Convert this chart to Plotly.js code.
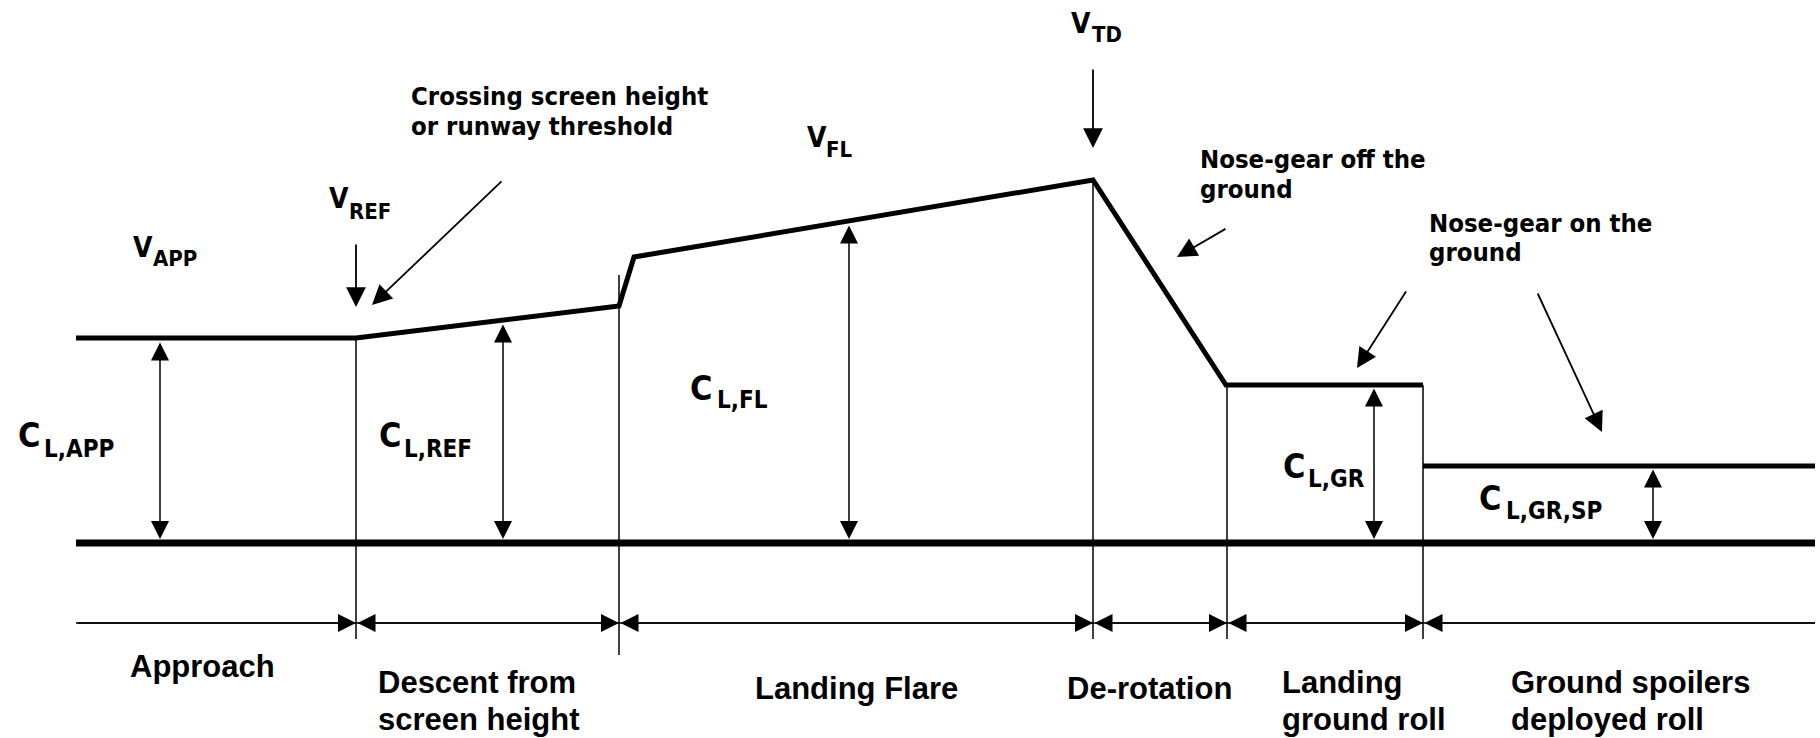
<!DOCTYPE html>
<html>
<head>
<meta charset="utf-8">
<script src="https://cdn.plot.ly/plotly-3.0.1.min.js"></script>
<style>html,body{margin:0;padding:0;background:#fff;}#chart{width:1820px;height:738px;}</style>
</head>
<body>
<div id="chart"></div>
<script>
// ---- Data (distance along the landing, lift-coefficient height above the ground line) ----
const profileX  = [76, 356, 619, 634, 1093, 1226, 1423, null, 1423, 1815];
const profileCL = [205, 205, 237, 286, 363, 158, 158, null, 77, 77];

const groundX = [76, 1815];
const groundCL = [0, 0];

// phase boundaries (separator lines) : x, top, bottom
const boundaryX      = [356, 619, 1093, 1227, 1423];
const boundaryTop    = [205, 268, 363, 158, 158];
const boundaryBottom = [-96, -112, -96, -96, -96];

// phase extents along the dimension line
const phaseNames  = ['Approach', 'Descent from|screen height', 'Landing Flare', 'De-rotation', 'Landing|ground roll', 'Ground spoilers|deployed roll'];
const phaseStart  = [76, 356, 619, 1093, 1227, 1423];
const phaseEnd    = [356, 619, 1093, 1227, 1423, 1815];
const phaseLabelX = [129, 377, 754, 1066, 1281, 1510];
const phaseLabelY = [-123.5, -139.5, -145.5, -145.5, -139.5, -139.5];
const dimLineCL = -80;

// lift-coefficient dimension arrows
const clNames = ['L,APP', 'L,REF', 'L,FL', 'L,GR', 'L,GR,SP'];
const clArrowX   = [160, 503, 849, 1374, 1653];
const clArrowTop = [202, 220, 319, 156, 75];
const clLabelX   = [17, 378, 689, 1282, 1478];
const clLabelY   = [108, 108, 155, 77.5, 45.5];
const clSubX     = [43, 403, 716, 1307, 1505];
const clSubY     = [94.5, 94.5, 143, 64, 32];

// speed labels
const vNames  = ['APP', 'REF', 'FL', 'TD'];
const vLabelX = [132, 328, 806, 1070];
const vLabelY = [296, 344.5, 405.5, 520];
const vSubX   = [152, 348, 825, 1091];
const vSubY   = [284.5, 331.5, 394, 508.5];

// pointer arrows: tail -> tip
const pointerTailX = [356, 503, 1093, 1227, 1407, 1537];
const pointerTailY = [300, 363, 475, 315, 253, 251];
const pointerTipX  = [356, 372, 1093, 1177, 1357, 1602];
const pointerTipY  = [236, 238, 395, 286, 175, 111];

// callout texts
const noteLines = ['Crossing screen height', 'or runway threshold', 'Nose-gear off the', 'ground', 'Nose-gear on the', 'ground'];
const noteX = [410, 410, 1199, 1199, 1428, 1428];
const noteY = [447, 417.5, 384, 354, 320.5, 291.5];

// ---- Build ----
const BLACK = '#000';
const cond = "'DejaVu Sans Condensed', 'DejaVu Sans', sans-serif";
const arial = "'Liberation Sans', Arial, sans-serif";

const traces = [];
traces.push({x: groundX, y: groundCL, mode: 'lines', line: {color: BLACK, width: 7}, hoverinfo: 'skip'});
traces.push({x: profileX, y: profileCL, mode: 'lines', line: {color: BLACK, width: 5}, hoverinfo: 'skip', connectgaps: false});

const bx = [], by = [];
boundaryX.forEach((x, i) => { bx.push(x, x, null); by.push(boundaryTop[i], boundaryBottom[i], null); });
traces.push({x: bx, y: by, mode: 'lines', line: {color: BLACK, width: 1.5}, hoverinfo: 'skip'});
traces.push({x: [phaseStart[0], phaseEnd[phaseEnd.length - 1]], y: [dimLineCL, dimLineCL], mode: 'lines', line: {color: BLACK, width: 1.5}, hoverinfo: 'skip'});

const ann = [];
function txt(text, x, y, size, family, weight) {
  ann.push({x: x, y: y, xref: 'x', yref: 'y', text: text, showarrow: false, xanchor: 'left', yanchor: 'middle',
    borderpad: 0, font: {family: family, size: size, color: BLACK, weight: weight}});
}
function arrow(x, y, ax, ay, side, w, s) {
  ann.push({x: x, y: y, ax: ax, ay: ay, xref: 'x', yref: 'y', axref: 'x', ayref: 'y', text: '', showarrow: true,
    arrowside: side, arrowhead: 2, startarrowhead: 2, arrowsize: s, startarrowsize: s, arrowwidth: w, arrowcolor: BLACK,
    standoff: 0, startstandoff: 0});
}

// phase dimension arrows
phaseStart.forEach((s, i) => {
  const side = i === 0 ? 'end' : (i === phaseStart.length - 1 ? 'start' : 'end+start');
  arrow(phaseEnd[i], dimLineCL, s, dimLineCL, side, 1.5, 2.4);
});
// phase labels
phaseNames.forEach((n, i) => {
  const parts = n.split('|');
  txt(parts[0], phaseLabelX[i], phaseLabelY[i], 31, arial, 'bold');
  if (parts[1]) txt(parts[1], phaseLabelX[i], phaseLabelY[i] - 36.5, 31, arial, 'bold');
});
// CL arrows and labels
clArrowX.forEach((x, i) => {
  arrow(x, 4, x, clArrowTop[i], 'end+start', 1.5, 2.4);
  txt('C', clLabelX[i], clLabelY[i], 34, cond, 'bold');
  txt(clNames[i], clSubX[i], clSubY[i], 24, cond, 'bold');
});
// speed labels
vNames.forEach((n, i) => {
  txt('V', vLabelX[i], vLabelY[i], 28, cond, 'bold');
  txt(n, vSubX[i], vSubY[i], 22, cond, 'bold');
});
// pointer arrows
pointerTipX.forEach((x, i) => arrow(x, pointerTipY[i], pointerTailX[i], pointerTailY[i], 'end', 1.8, 2.2));
// callouts
noteLines.forEach((t, i) => txt(t, noteX[i], noteY[i], 25.5, cond, 'bold'));

const layout = {
  width: 1820, height: 738,
  margin: {l: 0, r: 0, t: 0, b: 0, pad: 0},
  paper_bgcolor: '#fff', plot_bgcolor: '#fff',
  showlegend: false,
  xaxis: {range: [0, 1820], visible: false, fixedrange: true},
  yaxis: {range: [-195, 543], visible: false, fixedrange: true},
  annotations: ann
};
Plotly.newPlot('chart', traces, layout, {staticPlot: true, displayModeBar: false});
</script>
</body>
</html>
